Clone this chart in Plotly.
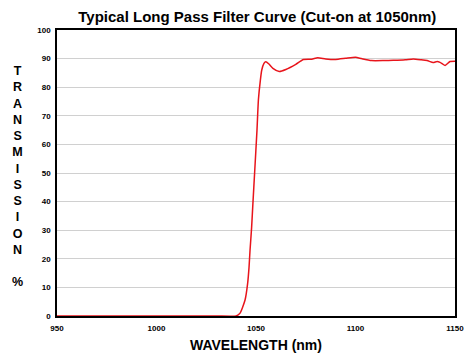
import plotly.graph_objects as go

wavelength = [950, 1000, 1030, 1040, 1042, 1044.5, 1045.8, 1046.5, 1047, 1047.8, 1048.5,
              1049.3, 1050.5, 1051.2, 1052.2, 1052.9, 1054, 1054.9, 1056.5, 1058.5, 1061.7,
              1065, 1070, 1073.8, 1078, 1081, 1085, 1090, 1095, 1100, 1103, 1108, 1114, 1119,
              1125, 1129, 1133, 1136, 1139, 1141, 1142.5, 1145, 1147.5, 1150]
transmission = [0, 0, 0, 0, 1, 5.6, 11.4, 17, 23, 31, 40,
                50, 65, 75.5, 82.5, 86, 88.3, 88.9, 88.1, 86.6, 85.5,
                86.2, 88, 89.7, 89.8, 90.3, 89.9, 89.7, 90.1, 90.5, 90, 89.3, 89.3, 89.4,
                89.6, 89.9, 89.6, 89.3, 88.6, 89, 88.7, 87.6, 89, 89.1]
x_ticks = [950, 1000, 1050, 1100, 1150]
y_ticks = [0, 10, 20, 30, 40, 50, 60, 70, 80, 90, 100]

title = "Typical Long Pass Filter Curve (Cut-on at 1050nm)"
x_title = "WAVELENGTH (nm)"
y_title = "TRANSMISSION"

fig = go.Figure()
fig.add_trace(go.Scatter(x=wavelength, y=transmission, mode="lines",
                         line=dict(color="#e8141b", width=1.5, shape="spline", smoothing=0.5),
                         showlegend=False))

font_family = "Liberation Sans, Arial, sans-serif"
fig.update_layout(
    width=466, height=348,
    margin=dict(l=49, r=19, t=22, b=40, autoexpand=False),
    paper_bgcolor="white", plot_bgcolor="white",
    title=dict(text="<b>" + title + "</b>", x=0.535, xanchor="center", y=0.975, yanchor="middle",
               font=dict(family=font_family, size=15, color="black")),
    xaxis=dict(range=[950, 1150], tickvals=x_ticks, ticktext=["<b>%d</b>" % v for v in x_ticks],
               showgrid=False, zeroline=False, showline=True, linecolor="black", linewidth=1.5,
               mirror=True, ticks="", ticklabelstandoff=4,
               tickfont=dict(family=font_family, size=8, color="black"),
               title=dict(text="<b>" + x_title + "</b>", standoff=8,
                          font=dict(family=font_family, size=14, color="black"))),
    yaxis=dict(range=[0, 100], tickvals=y_ticks, ticktext=["<b>%d</b>" % v for v in y_ticks],
               showgrid=True, gridcolor="#d0d0d0", gridwidth=1, zeroline=False,
               showline=True, linecolor="black", linewidth=1.5, mirror=True, ticks="",
               ticklabelstandoff=3,
               tickfont=dict(family=font_family, size=8, color="black")),
)

fig.add_annotation(
    text="<b>" + "<br>".join(list(y_title)) + "<br><br>%</b>",
    xref="paper", yref="paper", x=-0.098, y=0.488, showarrow=False,
    xanchor="center", yanchor="middle", align="center",
    font=dict(family=font_family, size=12.5, color="black"),
)

fig.write_html("out.html")
